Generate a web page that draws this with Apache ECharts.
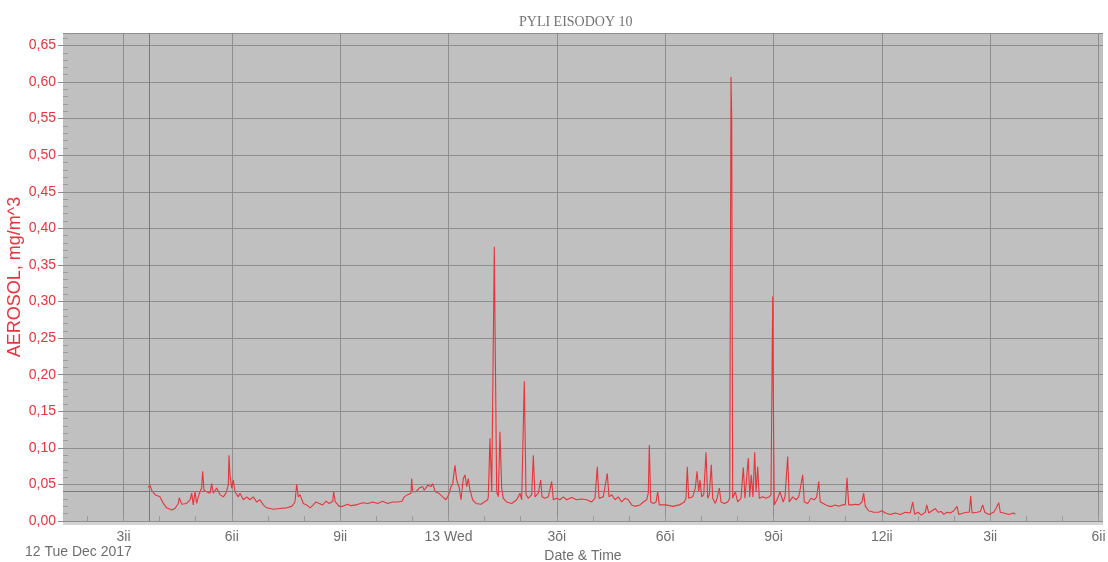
<!DOCTYPE html>
<html>
<head>
<meta charset="utf-8">
<script src="https://cdn.jsdelivr.net/npm/echarts@6/dist/echarts.min.js"></script>
<style>
  html, body { margin: 0; padding: 0; background: #ffffff; }
  #chart { width: 1108px; height: 562px; }
</style>
</head>
<body>
<div id="chart"></div>
<script>
// Time of each reading, in hours after the first labelled tick
const hours = [
  0.687, 0.734, 0.781, 0.872, 1.011, 1.102, 1.196, 1.335, 1.426, 1.518,
  1.545, 1.612, 1.750, 1.842, 1.888, 1.933, 1.980, 2.027, 2.071, 2.119,
  2.166, 2.193, 2.229, 2.304, 2.395, 2.443, 2.487, 2.581, 2.672, 2.764,
  2.839, 2.902, 2.922, 2.949, 2.996, 3.041, 3.088, 3.179, 3.226, 3.318,
  3.412, 3.503, 3.595, 3.689, 3.780, 3.872, 3.966, 4.148, 4.334, 4.520,
  4.658, 4.749, 4.796, 4.841, 4.888, 4.979, 5.073, 5.165, 5.256, 5.331,
  5.422, 5.516, 5.608, 5.699, 5.793, 5.821, 5.865, 5.976, 6.070, 6.209,
  6.300, 6.439, 6.624, 6.763, 6.901, 7.040, 7.178, 7.316, 7.455, 7.593,
  7.712, 7.776, 7.870, 7.962, 7.981, 8.009, 8.100, 8.192, 8.286, 8.330,
  8.424, 8.516, 8.563, 8.635, 8.729, 8.840, 8.931, 9.006, 9.070, 9.117,
  9.180, 9.227, 9.299, 9.346, 9.410, 9.457, 9.504, 9.548, 9.596, 9.670,
  9.762, 9.900, 9.992, 10.086, 10.102, 10.149, 10.197, 10.269, 10.288, 10.335,
  10.380, 10.426, 10.473, 10.518, 10.612, 10.750, 10.889, 10.980, 11.027, 11.099,
  11.147, 11.210, 11.304, 11.349, 11.396, 11.487, 11.554, 11.590, 11.673, 11.764,
  11.858, 11.903, 11.997, 12.088, 12.179, 12.273, 12.412, 12.550, 12.689, 12.827,
  12.966, 13.057, 13.121, 13.168, 13.287, 13.398, 13.445, 13.520, 13.611, 13.702,
  13.797, 13.888, 13.979, 14.074, 14.165, 14.303, 14.395, 14.489, 14.533, 14.561,
  14.600, 14.672, 14.747, 14.794, 14.838, 15.023, 15.209, 15.392, 15.530, 15.577,
  15.613, 15.652, 15.763, 15.835, 15.882, 15.929, 15.965, 16.012, 16.068, 16.131,
  16.178, 16.223, 16.278, 16.317, 16.389, 16.436, 16.500, 16.547, 16.638, 16.732,
  16.788, 16.824, 16.843, 16.870, 16.942, 17.008, 17.100, 17.164, 17.211, 17.258,
  17.302, 17.341, 17.385, 17.432, 17.480, 17.516, 17.563, 17.607, 17.701, 17.792,
  17.884, 17.931, 17.978, 17.994, 18.022, 18.116, 18.179, 18.271, 18.318, 18.393,
  18.437, 18.532, 18.623, 18.698, 18.734, 18.809, 18.853, 18.948, 19.039, 19.130,
  19.197, 19.252, 19.296, 19.380, 19.454, 19.546, 19.621, 19.712, 19.806, 19.897,
  19.989, 20.036, 20.083, 20.174, 20.266, 20.360, 20.451, 20.498, 20.543, 20.637,
  20.775, 20.914, 21.005, 21.097, 21.235, 21.374, 21.512, 21.651, 21.789, 21.856,
  21.911, 22.003, 22.094, 22.205, 22.244, 22.299, 22.390, 22.482, 22.557, 22.640,
  22.715, 22.806, 22.898, 22.992, 23.036, 23.083, 23.130, 23.268, 23.360, 23.423,
  23.462, 23.498, 23.636, 23.728, 23.794, 23.850, 23.960, 24.099, 24.162, 24.237,
  24.281, 24.376, 24.514, 24.653, 24.697
];

// Aerosol concentration, mg/m^3
const aerosol = [
  0.046, 0.049, 0.042, 0.036, 0.033, 0.024, 0.018, 0.015, 0.017, 0.024,
  0.032, 0.023, 0.024, 0.029, 0.038, 0.022, 0.040, 0.024, 0.033, 0.040,
  0.045, 0.068, 0.042, 0.040, 0.038, 0.051, 0.038, 0.045, 0.036, 0.033,
  0.038, 0.049, 0.090, 0.063, 0.045, 0.056, 0.040, 0.033, 0.038, 0.029,
  0.033, 0.029, 0.033, 0.026, 0.029, 0.022, 0.018, 0.016, 0.017, 0.018,
  0.020, 0.026, 0.050, 0.033, 0.036, 0.024, 0.022, 0.018, 0.022, 0.026,
  0.024, 0.022, 0.027, 0.024, 0.027, 0.040, 0.026, 0.020, 0.020, 0.023,
  0.021, 0.022, 0.025, 0.024, 0.026, 0.024, 0.027, 0.024, 0.026, 0.026,
  0.027, 0.033, 0.036, 0.038, 0.058, 0.040, 0.040, 0.045, 0.047, 0.042,
  0.049, 0.047, 0.051, 0.040, 0.038, 0.033, 0.029, 0.036, 0.047, 0.051,
  0.076, 0.056, 0.045, 0.029, 0.058, 0.063, 0.047, 0.058, 0.042, 0.029,
  0.024, 0.023, 0.026, 0.029, 0.033, 0.113, 0.040, 0.375, 0.270, 0.040,
  0.033, 0.122, 0.045, 0.031, 0.026, 0.024, 0.029, 0.038, 0.029, 0.191,
  0.036, 0.031, 0.036, 0.090, 0.033, 0.038, 0.056, 0.033, 0.031, 0.033,
  0.054, 0.029, 0.031, 0.029, 0.033, 0.029, 0.032, 0.029, 0.030, 0.029,
  0.026, 0.031, 0.074, 0.031, 0.033, 0.065, 0.033, 0.036, 0.029, 0.033,
  0.026, 0.031, 0.029, 0.022, 0.020, 0.022, 0.026, 0.029, 0.038, 0.104,
  0.026, 0.024, 0.026, 0.040, 0.022, 0.022, 0.020, 0.022, 0.026, 0.031,
  0.074, 0.031, 0.033, 0.045, 0.068, 0.040, 0.056, 0.033, 0.036, 0.094,
  0.031, 0.036, 0.077, 0.031, 0.024, 0.031, 0.045, 0.026, 0.024, 0.026,
  0.031, 0.607, 0.550, 0.031, 0.040, 0.026, 0.031, 0.073, 0.031, 0.033,
  0.086, 0.033, 0.063, 0.033, 0.094, 0.040, 0.074, 0.031, 0.033, 0.031,
  0.033, 0.036, 0.307, 0.179, 0.022, 0.031, 0.040, 0.026, 0.033, 0.088,
  0.026, 0.033, 0.029, 0.033, 0.042, 0.063, 0.026, 0.024, 0.031, 0.029,
  0.033, 0.054, 0.026, 0.024, 0.022, 0.020, 0.020, 0.022, 0.020, 0.022,
  0.022, 0.059, 0.022, 0.022, 0.023, 0.022, 0.026, 0.038, 0.020, 0.014,
  0.012, 0.012, 0.014, 0.011, 0.009, 0.011, 0.009, 0.012, 0.011, 0.026,
  0.009, 0.012, 0.008, 0.012, 0.022, 0.011, 0.014, 0.017, 0.012, 0.013,
  0.009, 0.012, 0.011, 0.014, 0.012, 0.020, 0.009, 0.011, 0.012, 0.012,
  0.034, 0.011, 0.012, 0.013, 0.022, 0.012, 0.009, 0.012, 0.017, 0.025,
  0.012, 0.011, 0.009, 0.011, 0.009
];

// Labelled time ticks (hours) and their captions
const tickHours = [0, 3, 6, 9, 12, 15, 18, 21, 24, 27];
const tickLabels = ['3ii', '6ii', '9ii', '13 Wed', '3ōi', '6ōi', '9ōi', '12ii', '3ii', '6ii'];
// Hourly minor ticks
const minorHours = [-1, 0, 1, 2, 3, 4, 5, 6, 7, 8, 9, 10, 11, 12, 13, 14, 15, 16, 17, 18, 19, 20, 21, 22, 23, 24, 25, 26, 27];

// Visible time window and concentration range
const hourMin = -1.675;
const hourMax = 27.125;
const valueMax = 0.667;

// Reference level and start-of-record cursor
const referenceLevel = 0.035;
const cursorHour = 0.70;

const dateCaption = '12 Tue Dec 2017';

const chart = echarts.init(document.getElementById('chart'), null, { renderer: 'canvas' });

const RED = '#e8343a';
const GRID = '#8e8e8e';
const TEXT = '#6e6e6e';

const fmtValue = v => v.toFixed(2).replace('.', ',');

chart.setOption({
  animation: false,
  backgroundColor: '#ffffff',
  title: {
    text: 'PYLI EISODOY 10',
    left: 514,
    top: 10,
    textStyle: {
      fontFamily: 'Liberation Serif',
      fontWeight: 'normal',
      fontSize: 14,
      color: '#737373'
    }
  },
  grid: {
    left: 63,
    right: 5,
    top: 33,
    bottom: 41,
    outerBoundsMode: 'none',
    show: true,
    backgroundColor: '#c0c0c0',
    borderWidth: 0
  },
  xAxis: [
    {
      type: 'value',
      min: hourMin,
      max: hourMax,
      name: 'Date & Time',
      nameLocation: 'middle',
      nameGap: 26,
      nameTextStyle: { color: TEXT, fontFamily: 'Liberation Sans', fontSize: 14 },
      axisLine: { show: false, onZero: false },
      axisTick: { show: false, customValues: tickHours },
      axisLabel: {
        customValues: tickHours,
        color: TEXT,
        fontFamily: 'Liberation Sans',
        fontSize: 14,
        margin: 9,
        formatter: v => tickLabels[tickHours.indexOf(Math.round(v))] || ''
      },
      splitLine: { show: true, lineStyle: { color: GRID, width: 1 } }
    },
    {
      // hourly ticks standing on the base strip
      type: 'value',
      min: hourMin,
      max: hourMax,
      position: 'bottom',
      z: 10,
      axisLine: { show: false, onZero: false },
      axisLabel: { show: false },
      splitLine: { show: false },
      axisTick: {
        show: true,
        inside: true,
        length: 5,
        customValues: minorHours,
        lineStyle: { color: '#9a9a9a', width: 1 }
      }
    }
  ],
  yAxis: [
    {
      type: 'value',
      min: 0,
      max: valueMax,
      interval: 0.05,
      position: 'left',
      name: 'AEROSOL, mg/m^3',
      nameLocation: 'middle',
      nameRotate: 90,
      nameGap: 39,
      nameMoveOverlap: false,
      nameTextStyle: { color: RED, fontFamily: 'Liberation Sans', fontSize: 18 },
      axisLine: { show: false, onZero: false },
      axisTick: { show: true, length: 5, lineStyle: { color: '#8a8a8a' } },
      axisLabel: {
        color: RED,
        fontFamily: 'Liberation Sans',
        fontSize: 14,
        margin: 7,
        showMaxLabel: false,
        formatter: fmtValue
      },
      splitLine: { show: true, lineStyle: { color: GRID, width: 1 } }
    },
    {
      // inner minor ticks along the left edge of the plot
      type: 'value',
      min: 0,
      max: valueMax,
      interval: 0.05,
      position: 'left',
      axisLine: { show: false, onZero: false },
      axisLabel: { show: false },
      splitLine: { show: false },
      axisTick: { show: false, inside: true },
      minorTick: { show: true, splitNumber: 5, length: 5, lineStyle: { color: '#9c9c9c' } }
    }
  ],
  series: [
    {
      name: 'reference',
      type: 'line',
      data: [],
      z: 1,
      silent: true,
      markLine: {
        silent: true,
        symbol: 'none',
        label: { show: false },
        lineStyle: { color: '#7a7a7a', type: 'solid', width: 1 },
        data: [
          { yAxis: referenceLevel },
          { xAxis: cursorHour }
        ]
      }
    },
    {
      name: 'AEROSOL',
      type: 'line',
      z: 3,
      showSymbol: false,
      sampling: false,
      data: hours.map((h, i) => [h, aerosol[i]]),
      lineStyle: { color: RED, width: 1.1 },
      itemStyle: { color: RED }
    }
  ],
  graphic: [
    {
      type: 'rect',
      z: -10,
      shape: { x: 63, y: 521, width: 1040, height: 4 },
      style: { fill: '#d3d3d3' },
      silent: true
    },
    {
      type: 'text',
      left: 25,
      top: 545,
      style: {
        text: dateCaption,
        fill: TEXT,
        font: '14px "Liberation Sans"'
      }
    }
  ]
});
</script>
</body>
</html>
